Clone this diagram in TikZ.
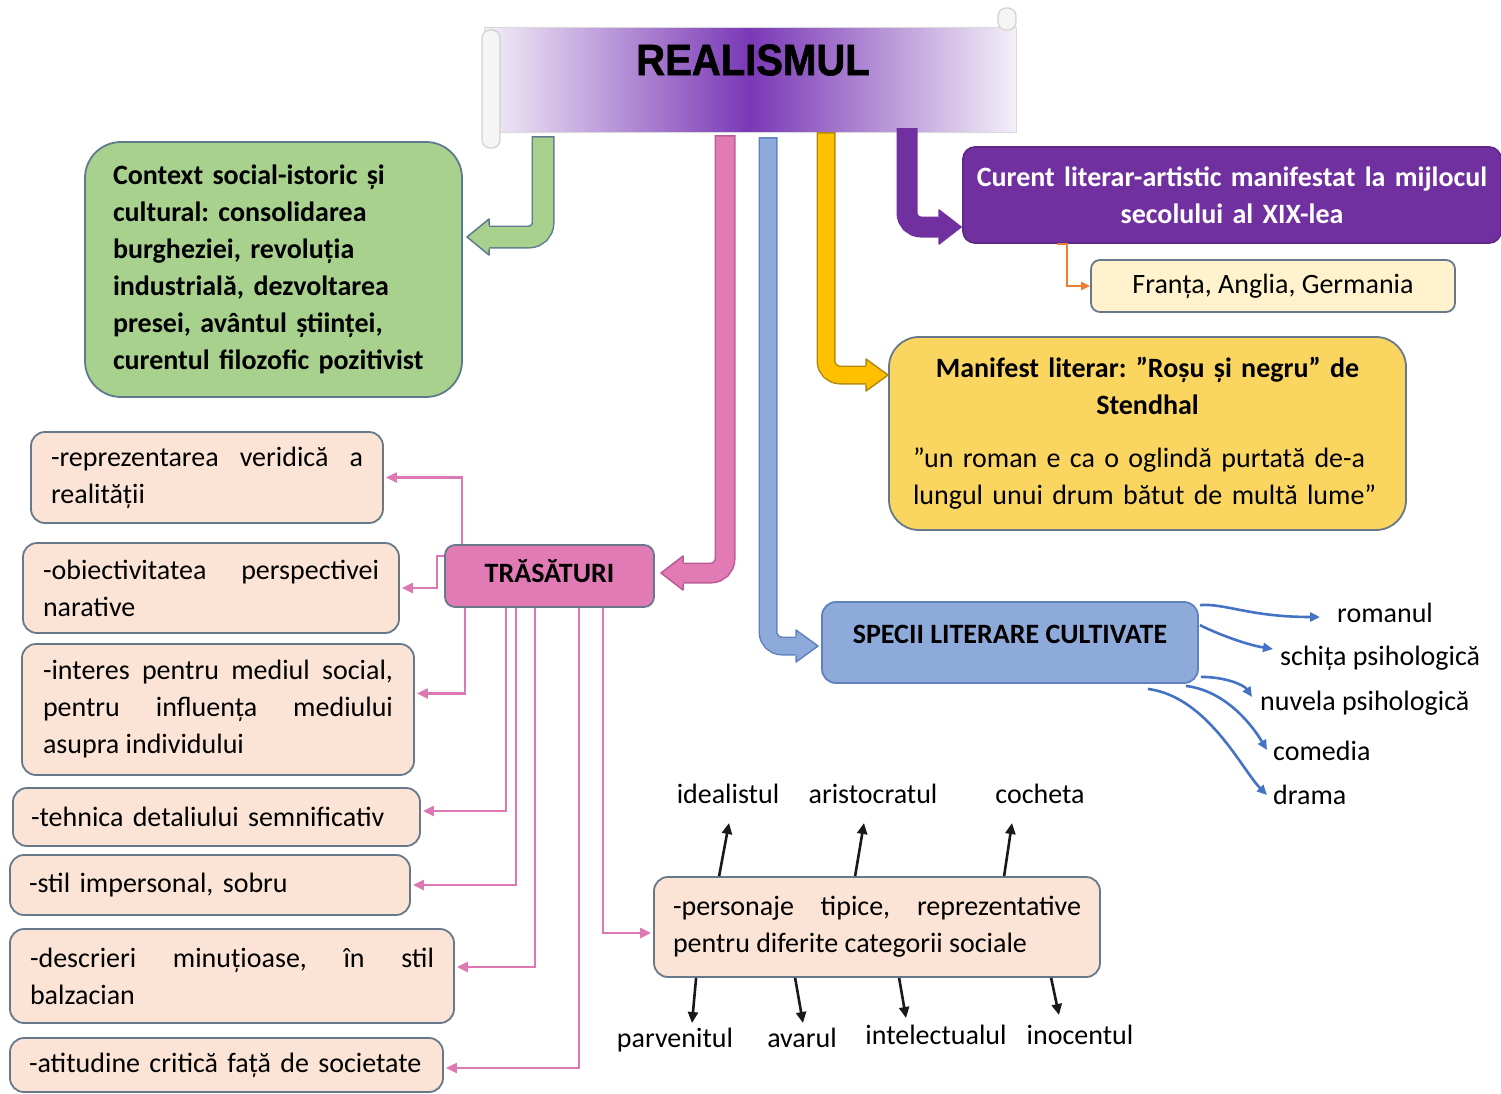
\documentclass[tikz,border=0pt]{standalone}
\usepackage{fontspec}
\usepackage{graphicx}
\setmainfont{Carlito}
\newfontfamily\titlefont{Liberation Sans}[BoldFeatures={FakeBold=1.5}]
\usetikzlibrary{arrows.meta,calc,positioning}
\hyphenpenalty=10000
\exhyphenpenalty=10000
\frenchspacing

\definecolor{bordc}{HTML}{67788A}
\definecolor{greenc}{HTML}{A9D18E}
\definecolor{greenl}{HTML}{5E7A8C}
\definecolor{pinkc}{HTML}{E27BB5}
\definecolor{pinkl}{HTML}{B95C94}
\definecolor{pinkline}{HTML}{DE78B3}
\definecolor{bluec}{HTML}{8EAADB}
\definecolor{bluel}{HTML}{5F82BF}
\definecolor{bluearr}{HTML}{4472C4}
\definecolor{yelc}{HTML}{FFC000}
\definecolor{yell}{HTML}{B08A10}
\definecolor{yelbox}{HTML}{FAD660}
\definecolor{purc}{HTML}{7030A0}
\definecolor{peachc}{HTML}{FBE4D5}
\definecolor{frc}{HTML}{FFF2CC}
\definecolor{orc}{HTML}{ED7D31}
\definecolor{banmid}{HTML}{7A38B6}
\definecolor{banedge}{HTML}{F4EFF8}

\tikzset{
  box/.style={draw=bordc, line width=1.8pt, rounded corners=14pt, inner ysep=4pt,
    font=\fontsize{28}{37}\selectfont},
  bbox/.style={box, font=\fontsize{28}{37}\selectfont\bfseries},
  peach/.style={box, fill=peachc, align=justify},
  lbl/.style={font=\fontsize{28}{37}\selectfont, inner sep=0pt},
  trait/.style={draw=pinkline, line width=2.2pt, -{Triangle[length=11pt,width=10pt]}, shorten >=2pt},
  kind/.style={draw=bluearr, line width=2.6pt, -{Triangle[length=10pt,width=9pt]}},
  type/.style={draw=black!90, line width=2.6pt, -{Triangle[length=11pt,width=10pt]}},
  curl/.style={draw=black!18, fill=black!4, line width=1.2pt, rounded corners=8pt}
}

% bent block arrow: fill, outline, x, top, y of bend, tip x, half width
\newcommand{\bentarrow}[7]{%
  \pgfmathsetmacro{\basg}{sign(#6-#3)}%
  \pgfmathsetmacro{\baxb}{#6-\basg*22}%
  \pgfmathsetmacro{\baxc}{#6-\basg*19}%
  \pgfmathsetmacro{\bahw}{#7+8}%
  \draw[draw=#2, line width=2*#7pt+3pt, rounded corners=14pt] (#3,#4) |- (\baxb,#5);
  \draw[draw=#1, line width=2*#7pt, rounded corners=14pt] (#3,#4+1.5) |- (\baxc,#5);
  \fill[#1] (\baxb,#5-\bahw) -- (#6,#5) -- (\baxb,#5+\bahw) -- cycle;
  \draw[draw=#2, line width=1.5pt, line join=round] (\baxb,#5-#7-1.5) -- (\baxb,#5-\bahw)
    -- (#6,#5) -- (\baxb,#5+\bahw) -- (\baxb,#5+#7+1.5);
}

\begin{document}
\begin{tikzpicture}[x=1pt, y=-1pt]
\useasboundingbox (0,0) rectangle (1501,1093);

% Title scroll
\node[draw=black!15, line width=1pt, left color=banedge, right color=banedge, middle color=banmid,
  minimum width=532pt, minimum height=105pt, inner sep=0pt] (banner) at (750,79.5) {};
\draw[curl] (482,30) rectangle (500,148);
\draw[curl] (998,8) rectangle (1016,30);
\node[font=\titlefont\bfseries\fontsize{44}{44}\selectfont, inner sep=0pt] (title) at (753,60)
  {\scalebox{0.91}[1]{REALISMUL}};

% Block arrows out of the scroll
\bentarrow{greenc}{greenl}{543}{136}{237}{467}{10}
\bentarrow{pinkc}{pinkl}{725}{135}{573}{661}{9}
\bentarrow{bluec}{bluel}{768}{137}{646}{818}{8}
\bentarrow{yelc}{yell}{826}{132}{375}{888}{8}
\bentarrow{purc}{purc}{907}{128}{227}{961}{9}

% Context box
\node[bbox, fill=greenc, draw=greenl, rounded corners=36pt, minimum width=377pt, minimum height=255pt,
  text width=321pt, inner xsep=28pt, align=left] (ctx) at (273.5,269.5)
  {Context social-istoric și\\ cultural: consolidarea\\ burgheziei, revoluția\\ industrială, dezvoltarea\\
   presei, avântul științei,\\ curentul filozofic pozitivist};

% Current box and countries
\node[bbox, fill=purc, draw=purc!85!black, text=white, rounded corners=12pt, minimum width=538pt,
  minimum height=96pt, text width=534pt, inner xsep=2pt, align=center] (cur) at (1232,195)
  {Curent literar-artistic manifestat la mijlocul\\ secolului al XIX-lea};
\node[box, fill=frc, rounded corners=9pt, minimum width=364pt, minimum height=52pt] (fr) at (1273,286)
  {Franța, Anglia, Germania};
\draw[draw=orc, line width=2pt, -{Triangle[length=9pt,width=8pt]}]
  ($(cur.south west)+(95,0)$) -- ++(10,0) |- (fr.west);

% Manifesto box
\node[box, fill=yelbox, rounded corners=30pt, minimum width=517pt, minimum height=193pt,
  text width=469pt, inner xsep=24pt, align=left] (manif) at (1147.5,433.5)
  {{\centering\bfseries Manifest literar: ”Roșu și negru” de\\ Stendhal\par}\vspace{16pt}
   ”un roman e ca o oglindă purtată de-a\\ lungul unui drum bătut de multă lume”};

% Features
\node[bbox, fill=pinkc, rounded corners=10pt, minimum width=209pt, minimum height=62pt,
  text height=22pt, text depth=10pt] (trs) at (549.5,576) {TRĂSĂTURI};

\node[peach, minimum width=352pt, minimum height=91pt, inner xsep=20pt, text width=312pt] (b1) at (207,477.5)
  {-reprezentarea veridică a\linebreak realității};
\node[peach, minimum width=376pt, minimum height=90pt, inner xsep=20pt, text width=336pt] (b2) at (211,588)
  {-obiectivitatea perspectivei\linebreak narative};
\node[peach, minimum width=392pt, minimum height=131pt, inner xsep=21pt, text width=350pt] (b3) at (218,709.5)
  {-interes pentru mediul social,\linebreak pentru influența mediului\linebreak asupra individului};
\node[peach, minimum width=407pt, minimum height=58pt, inner xsep=18pt, text width=371pt, align=left] (b4) at (216.5,817)
  {-tehnica detaliului semnificativ};
\node[peach, minimum width=400pt, minimum height=60pt, inner xsep=19pt, text width=362pt, align=left] (b5) at (210,885)
  {-stil impersonal, sobru};
\node[peach, minimum width=444pt, minimum height=94pt, inner xsep=20pt, text width=404pt] (b6) at (232,976)
  {-descrieri minuțioase, în stil\linebreak balzacian};
\node[peach, minimum width=433pt, minimum height=54pt, inner xsep=19pt, text width=395pt, align=left] (b7) at (226.5,1065)
  {-atitudine critică față de societate};
\node[peach, minimum width=446pt, minimum height=100pt, inner xsep=19pt, text width=408pt] (pers) at (877,927)
  {-personaje tipice, reprezentative\linebreak pentru diferite categorii sociale};

\draw[trait] ($(trs.north west)+(18,0)$) |- (b1.east);
\draw[trait] ($(trs.north west)+(0,12)$) -- ++(-7,0) |- (b2.east);
\draw[trait] ($(trs.south west)+(21,0)$) |- ($(b3.east)+(0,-16)$);
\draw[trait] ($(trs.south west)+(62,0)$) |- ($(b4.east)+(0,-6)$);
\draw[trait] ($(trs.south west)+(72,0)$) |- (b5.east);
\draw[trait] ($(trs.south west)+(91,0)$) |- ($(b6.east)+(0,-9)$);
\draw[trait] ($(trs.south west)+(135,0)$) |- ($(b7.east)+(0,3)$);
\draw[trait] ($(trs.south west)+(159,0)$) |- ($(pers.west)+(0,6)$);

% Character types
\node[lbl, anchor=base] (ideal) at (728,803) {idealistul};
\node[lbl, anchor=base] (arist) at (873,803) {aristocratul};
\node[lbl, anchor=base] (coch) at (1040,803) {cocheta};
\node[lbl, anchor=base] (parv) at (675,1047) {parvenitul};
\node[lbl, anchor=base] (avar) at (802,1047) {avarul};
\node[lbl, anchor=base] (intel) at (936,1044) {intelectualul};
\node[lbl, anchor=base] (inoc) at (1080,1044) {inocentul};

\draw[type] ($(pers.north west)+(66,0)$) -- ($(ideal.base)+(1,20)$);
\draw[type] ($(pers.north west)+(202,0)$) -- ($(arist.base)+(-9,20)$);
\draw[type] ($(pers.north west)+(351,0)$) -- ($(coch.base)+(-28,20)$);
\draw[type] ($(pers.south west)+(43,0)$) -- ($(parv.base)+(17,-24)$);
\draw[type] ($(pers.south west)+(142,0)$) -- ($(avar.base)+(1,-24)$);
\draw[type] ($(pers.south west)+(246,0)$) -- ($(intel.base)+(-30,-26)$);
\draw[type] ($(pers.south west)+(398,0)$) -- ($(inoc.base)+(-21,-29)$);

% Literary species
\node[bbox, fill=bluec, draw=bluel, rounded corners=14pt, minimum width=376pt, minimum height=81pt,
  text height=20pt, text depth=19pt] (specii) at (1010,642.5) {SPECII LITERARE CULTIVATE};

\node[lbl, anchor=west] (roman) at (1337,613) {romanul};
\node[lbl, anchor=west] (schita) at (1280,658) {schița psihologică};
\node[lbl, anchor=west] (nuvela) at (1260,703) {nuvela psihologică};
\node[lbl, anchor=west] (comedia) at (1273,751) {comedia};
\node[lbl, anchor=west] (drama) at (1273,795) {drama};

\draw[kind] ($(specii.north east)+(1,4)$) .. controls +(25,-2) and +(-70,0) .. ($(roman.west)+(-17,4)$);
\draw[kind] ($(specii.north east)+(1,24)$) .. controls +(20,10) and +(-25,-4) .. ($(schita.west)+(-7,-9)$);
\draw[kind] ($(specii.south east)+(2,-7)$) .. controls +(25,0) and +(-8,-12) .. ($(nuvela.west)+(-8,-6)$);
\draw[kind] ($(specii.south east)+(-13,2)$) .. controls +(40,5) and +(-15,-25) .. ($(comedia.west)+(-6,-1)$);
\draw[kind] ($(specii.south east)+(-51,5)$) .. controls +(60,8) and +(-25,-25) .. ($(drama.west)+(-6,0)$);
\end{tikzpicture}
\end{document}
